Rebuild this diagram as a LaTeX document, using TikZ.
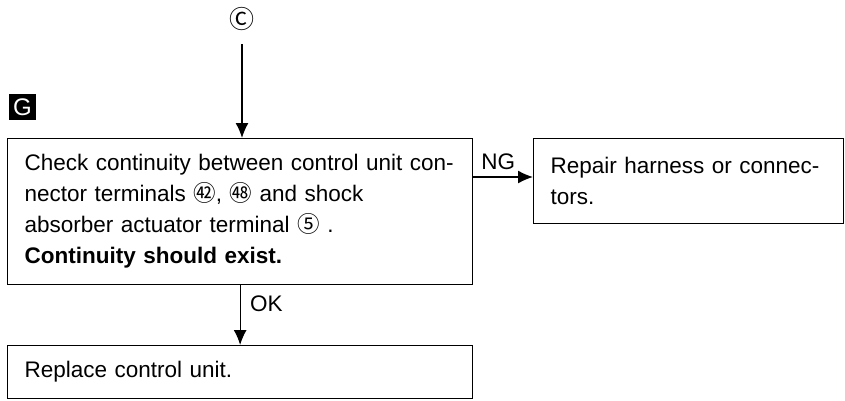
\documentclass[tikz,border=0pt]{standalone}
\usepackage{fontspec}
\setmainfont{Liberation Sans}
\newfontfamily\cjk{Noto Sans CJK JP}
\usetikzlibrary{arrows.meta}

\tikzset{
  stepbox/.style={draw, line width=1.3pt, anchor=north west, align=left,
    inner xsep=17pt, inner ysep=0pt},
  flow/.style={line width=1.3pt, -{Latex[length=15pt,width=13pt]}},
}

\begin{document}
\begin{tikzpicture}[x=1pt,y=-1pt,font=\fontsize{22.5}{31}\selectfont]
                \useasboundingbox (0,0) rectangle (845,400);

                % marca C e marca G
                \node[font=\fontsize{25}{25}\selectfont] (cc) at (242,19) {\cjk Ⓒ};
                \node[fill=black, text=white, inner sep=0pt, minimum width=27pt, minimum height=26pt,
                      font=\fontsize{24}{24}\selectfont] (gg) at (22.5,107) {G};

                % caixas
                \node[stepbox, text width=431pt, minimum height=146pt] (check) at (7,138)
                  {Check continuity between control unit con-\\
                   nector terminals {\cjk ㊷}, {\cjk ㊽} and shock\\
                   absorber actuator terminal {\cjk ⑤} .\\
                   \textbf{Continuity should exist.}};
                \node[stepbox, text width=276pt, minimum height=85pt] (repair) at (533,138)
                  {Repair harness or connec-\\tors.};
                \node[stepbox, text width=431pt, minimum height=53pt] (replace) at (7,345)
                  {Replace control unit.};

                % setas
                \draw[flow, shorten <=10pt] (cc) -- (cc |- check.north);
                \draw[flow] (check.east |- 0,177) coordinate (ng) -- (repair.west |- ng)
                  node[pos=0, above right, xshift=4pt, yshift=3pt] {NG};
                \draw[flow] (check.south) -- (replace.north)
                  node[pos=0, below right, xshift=6pt, yshift=-6pt] {OK};
\end{tikzpicture}
\end{document}
